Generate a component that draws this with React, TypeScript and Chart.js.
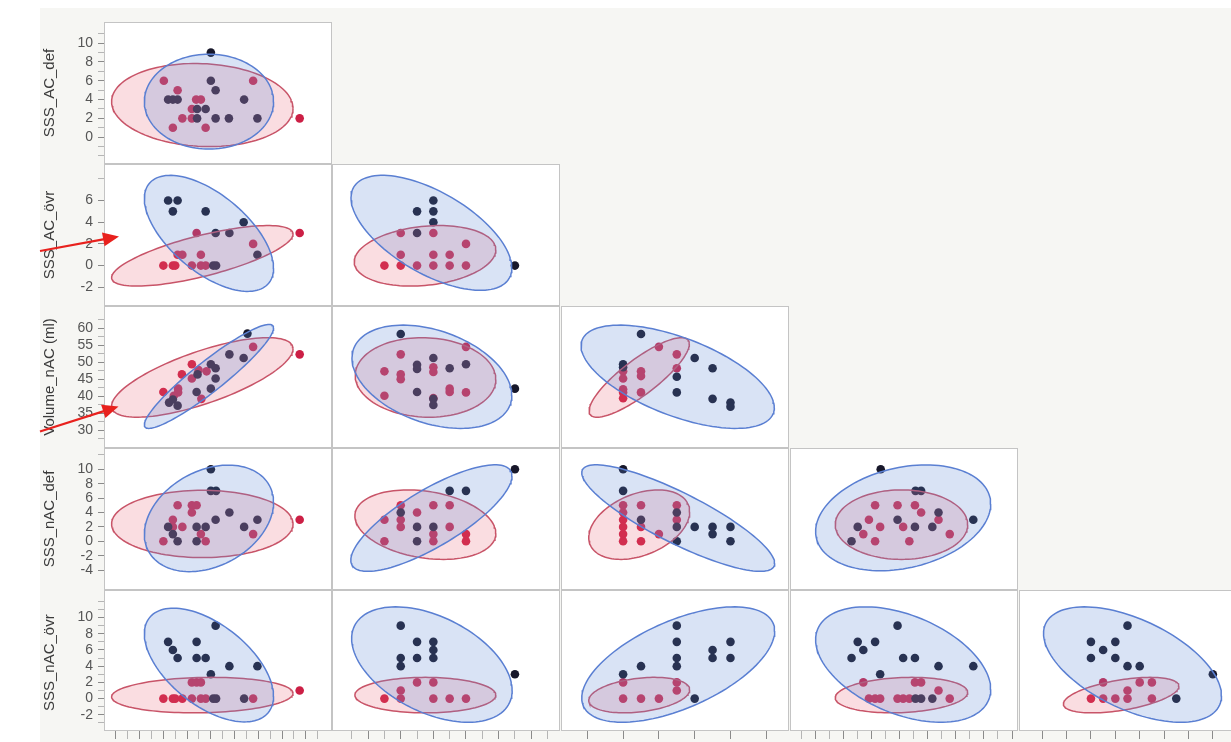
import React, { useEffect, useRef } from 'react';
import { Chart, registerables } from 'chart.js';

Chart.register(...registerables);

const FONT = "'Liberation Sans', Arial, Helvetica, sans-serif";

// variable names: index 0 is the column-1 x variable (not labelled in view)
const VARS = ['Volume_AC (ml)', 'SSS_AC_def', 'SSS_AC_övr', 'Volume_nAC (ml)', 'SSS_nAC_def', 'SSS_nAC_övr'];

// axis ranges
const COL_X_RANGES = [[17.5, 64.6], [-1.95, 11.5], [-3.23, 9.03], [26.2, 65.3], [-5.55, 12.45]];
const ROW_Y_RANGES = [[-2.4, 11.8], [-3.33, 8.97], [26.0, 65.26], [-6.16, 12.35], [-4.0, 12.87]];

// y tick marks and labelled ticks per row
const ROW1_TICKS = [-2, -1, 0, 1, 2, 3, 4, 5, 6, 7, 8, 9, 10, 11];
const ROW1_LABELS = [0, 2, 4, 6, 8, 10];
const ROW2_TICKS = [-2, 0, 2, 4, 6, 8];
const ROW2_LABELS = [-2, 0, 2, 4, 6];
const ROW3_TICKS = [27.5, 30, 32.5, 35, 37.5, 40, 42.5, 45, 47.5, 50, 52.5, 55, 57.5, 60, 62.5];
const ROW3_LABELS = [30, 35, 40, 45, 50, 55, 60];
const ROW4_TICKS = [-4, -2, 0, 2, 4, 6, 8, 10, 12];
const ROW4_LABELS = [-4, -2, 0, 2, 4, 6, 8, 10];
const ROW5_TICKS = [-3, -2, -1, 0, 1, 2, 3, 4, 5, 6, 7, 8, 9, 10, 11, 12];
const ROW5_LABELS = [-2, 0, 2, 4, 6, 8, 10];
const ROW_TICKS = [ROW1_TICKS, ROW2_TICKS, ROW3_TICKS, ROW4_TICKS, ROW5_TICKS];
const ROW_LABELS = [ROW1_LABELS, ROW2_LABELS, ROW3_LABELS, ROW4_LABELS, ROW5_LABELS];

// bottom x tick marks per column (major / minor)
const COL1_TICKS = [20, 22.5, 25, 27.5, 30, 32.5, 35, 37.5, 40, 42.5, 45, 47.5, 50, 52.5, 55, 57.5, 60, 62.5];
const COL1_MAJOR = [20, 25, 30, 35, 40, 45, 50, 55, 60];
const COL2_TICKS = [-1, 0, 1, 2, 3, 4, 5, 6, 7, 8, 9, 10, 11];
const COL2_MAJOR = [0, 2, 4, 6, 8, 10];
const COL3_TICKS = [-2, 0, 2, 4, 6, 8];
const COL3_MAJOR = [-2, 0, 2, 4, 6, 8];
const COL4_TICKS = [27.5, 30, 32.5, 35, 37.5, 40, 42.5, 45, 47.5, 50, 52.5, 55, 57.5, 60, 62.5, 65];
const COL4_MAJOR = [30, 35, 40, 45, 50, 55, 60, 65];
const COL5_TICKS = [-4, -2, 0, 2, 4, 6, 8, 10, 12];
const COL5_MAJOR = [-4, -2, 0, 2, 4, 6, 8, 10, 12];
const COL_TICKS = [COL1_TICKS, COL2_TICKS, COL3_TICKS, COL4_TICKS, COL5_TICKS];
const COL_MAJOR = [COL1_MAJOR, COL2_MAJOR, COL3_MAJOR, COL4_MAJOR, COL5_MAJOR];

// ---- panel data: [x, y] points, ellipses as [cx, halfX, cy, halfY, r] ----
const P11_BLACK = [[40.0, 9], [40.0, 6], [41.0, 5], [31.0, 4], [32.0, 4], [33.0, 4], [47.0, 4], [37.1, 3], [38.9, 3], [37.1, 2], [41.0, 2], [43.8, 2], [49.8, 2]];
const P11_RED = [[30.1, 6], [48.9, 6], [33.0, 5], [36.9, 4], [37.9, 4], [36.0, 3], [34.0, 2], [36.0, 2], [32.0, 1], [38.9, 1], [58.7, 2]];
const P11_BLUE_ELL = [39.6, 13.6, 3.78, 5.05, 0.0];
const P11_RED_ELL = [38.2, 19.1, 3.42, 4.42, -0.08];

const P21_BLACK = [[31.0, 6], [33.0, 6], [32.0, 5], [38.9, 5], [46.9, 4], [41.0, 3], [43.9, 3], [49.8, 1], [40.5, 0], [41.1, 0]];
const P21_RED = [[58.7, 3], [37.0, 3], [48.9, 2], [33.0, 1], [34.0, 1], [37.9, 1], [30.0, 0], [32.0, 0], [32.5, 0], [36.0, 0], [37.9, 0], [38.9, 0]];
const P21_BLUE_ELL = [39.6, 13.6, 2.97, 5.35, -0.6];
const P21_RED_ELL = [38.2, 19.1, 0.9, 2.79, 0.72];

const P31_BLACK = [[47.7, 58.4], [43.9, 52.3], [46.9, 51.2], [40.0, 49.4], [41.0, 48.2], [37.2, 46.4], [41.0, 45.2], [37.0, 41.2], [40.0, 42.2], [32.0, 39.0], [31.2, 38.1], [33.0, 37.2]];
const P31_RED = [[58.7, 52.3], [48.9, 54.5], [36.0, 49.4], [33.9, 46.4], [36.0, 45.2], [37.4, 47.7], [39.1, 47.3], [30.0, 41.2], [33.1, 42.2], [33.1, 41.1], [32.2, 40.1], [38.0, 39.2]];
const P31_BLUE_ELL = [39.6, 13.6, 45.8, 15.3, 0.93];
const P31_RED_ELL = [38.2, 19.1, 45.5, 11.7, 0.72];

const P41_BLACK = [[40.0, 10], [40.0, 7], [41.1, 7], [43.9, 4], [41.0, 3], [49.8, 3], [31.0, 2], [37.0, 2], [38.9, 2], [47.0, 2], [32.0, 1], [33.0, 0], [37.0, 0]];
const P41_RED = [[58.7, 3], [48.9, 1], [33.0, 5], [36.0, 5], [37.0, 5], [36.0, 4], [32.0, 3], [32.0, 2], [34.0, 2], [37.9, 1], [30.0, 0], [38.9, 0]];
const P41_BLUE_ELL = [39.6, 13.6, 3.18, 7.39, 0.3];
const P41_RED_ELL = [38.2, 19.1, 2.41, 4.67, 0.0];

const P51_BLACK = [[41.0, 9], [31.0, 7], [37.0, 7], [32.0, 6], [33.0, 5], [37.0, 5], [38.9, 5], [43.9, 4], [49.8, 4], [40.0, 3], [40.5, 0], [41.1, 0], [47.0, 0]];
const P51_RED = [[58.7, 1], [36.0, 2], [37.0, 2], [37.9, 2], [30.0, 0], [32.0, 0], [32.5, 0], [34.0, 0], [36.0, 0], [37.9, 0], [38.9, 0], [48.9, 0]];
const P51_BLUE_ELL = [39.6, 13.6, 4.14, 7.02, -0.55];
const P51_RED_ELL = [38.2, 19.1, 0.43, 2.19, 0.1];

const P22_BLACK = [[4, 6], [3, 5], [4, 5], [4, 4], [3, 3], [9, 0]];
const P22_RED = [[2, 3], [4, 3], [6, 2], [2, 1], [4, 1], [5, 1], [1, 0], [2, 0], [3, 0], [4, 0], [5, 0], [6, 0]];
const P22_BLUE_ELL = [3.88, 4.93, 3.02, 5.3, -0.61];
const P22_RED_ELL = [3.49, 4.34, 0.9, 2.79, 0.2];

const P32_BLACK = [[2, 58.3], [4, 51.2], [3, 49.2], [3, 48.0], [5, 48.2], [6, 49.4], [3, 41.2], [4, 39.2], [4, 37.4], [9, 42.2]];
const P32_RED = [[6, 54.5], [2, 52.3], [1, 47.3], [2, 46.4], [2, 45.0], [4, 48.5], [4, 47.1], [5, 42.2], [5, 41.2], [6, 41.1], [1, 40.1], [4, 39.4]];
const P32_BLUE_ELL = [3.91, 4.9, 45.7, 15.2, -0.36];
const P32_RED_ELL = [3.52, 4.31, 45.5, 11.7, -0.05];

const P33_BLACK = [[1, 58.3], [0, 49.4], [0, 48.5], [3, 45.7], [4, 51.2], [5, 48.2], [3, 41.1], [5, 39.2], [6, 38.1], [6, 36.9]];
const P33_RED = [[2, 54.5], [3, 52.3], [3, 48.2], [0, 47.3], [0, 45.2], [1, 47.3], [1, 45.9], [0, 42.0], [0, 41.1], [0, 39.4], [1, 41.1]];
const P33_BLUE_ELL = [3.05, 5.4, 45.7, 15.2, -0.6];
const P33_RED_ELL = [0.9, 2.8, 45.5, 11.7, 0.84];

const P42_BLACK = [[2, 4], [3, 2], [3, 0], [4, 2], [5, 7], [6, 7], [9, 10]];
const P42_RED = [[1, 3], [1, 0], [2, 5], [2, 3], [2, 2], [3, 4], [4, 5], [4, 1], [4, 0], [5, 5], [5, 2], [6, 1], [6, 0]];
const P42_BLUE_ELL = [3.88, 4.94, 3.22, 7.39, 0.79];
const P42_RED_ELL = [3.51, 4.32, 2.31, 4.82, -0.25];

const P43_BLACK = [[0, 10], [0, 7], [1, 3], [3, 4], [3, 2], [3, 0], [4, 2], [5, 2], [5, 1], [6, 2], [6, 0]];
const P43_RED = [[0, 5], [0, 4], [0, 3], [0, 2], [0, 1], [0, 0], [1, 5], [1, 2], [1, 0], [2, 1], [3, 5], [3, 3]];
const P43_BLUE_ELL = [3.08, 5.39, 3.22, 7.39, -0.85];
const P43_RED_ELL = [0.9, 2.82, 2.31, 4.82, 0.37];

const P44_BLACK = [[41.6, 10], [47.8, 7], [48.8, 7], [51.9, 4], [44.6, 3], [58.1, 3], [37.5, 2], [47.7, 2], [50.8, 2], [36.4, 0]];
const P44_RED = [[40.6, 5], [44.6, 5], [47.7, 5], [48.8, 4], [39.5, 3], [51.9, 3], [41.5, 2], [45.6, 2], [38.5, 1], [53.9, 1], [40.6, 0], [46.7, 0]];
const P44_BLUE_ELL = [45.6, 15.6, 3.26, 7.34, 0.26];
const P44_RED_ELL = [45.3, 11.8, 2.31, 4.82, 0.0];

const P52_BLACK = [[2, 9], [3, 7], [4, 7], [4, 6], [2, 5], [3, 5], [4, 5], [2, 4], [9, 3]];
const P52_RED = [[3, 2], [4, 2], [2, 1], [1, 0], [2, 0], [4, 0], [5, 0], [6, 0]];
const P52_BLUE_ELL = [3.91, 4.92, 4.2, 7.12, -0.45];
const P52_RED_ELL = [3.51, 4.32, 0.43, 2.19, 0.0];

const P53_BLACK = [[3, 9], [3, 7], [6, 7], [5, 6], [3, 5], [5, 5], [6, 5], [3, 4], [1, 4], [0, 3], [4, 0]];
const P53_RED = [[0, 2], [3, 2], [3, 1], [0, 0], [1, 0], [2, 0]];
const P53_BLUE_ELL = [3.08, 5.39, 4.2, 7.12, 0.58];
const P53_RED_ELL = [0.9, 2.82, 0.43, 2.19, 0.3];

const P54_BLACK = [[44.6, 9], [37.5, 7], [40.6, 7], [38.5, 6], [36.4, 5], [45.6, 5], [47.7, 5], [51.9, 4], [58.1, 4], [41.5, 3], [47.8, 0], [48.8, 0], [50.8, 0]];
const P54_RED = [[38.5, 2], [47.7, 2], [48.8, 2], [51.9, 1], [39.5, 0], [40.6, 0], [41.5, 0], [44.6, 0], [45.6, 0], [46.7, 0], [53.9, 0]];
const P54_BLUE_ELL = [45.6, 15.6, 4.2, 7.12, -0.43];
const P54_RED_ELL = [45.3, 11.8, 0.43, 2.19, 0.15];

const P55_BLACK = [[3, 9], [0, 7], [2, 7], [1, 6], [0, 5], [2, 5], [3, 4], [4, 4], [10, 3], [7, 0]];
const P55_RED = [[1, 2], [4, 2], [5, 2], [3, 1], [0, 0], [1, 0], [2, 0], [3, 0], [5, 0]];
const P55_BLUE_ELL = [3.41, 7.3, 4.2, 7.12, -0.54];
const P55_RED_ELL = [2.48, 4.74, 0.43, 2.19, 0.5];

const PANELS = [
  { r: 0, c: 0, black: P11_BLACK, red: P11_RED, blueEll: P11_BLUE_ELL, redEll: P11_RED_ELL },
  { r: 1, c: 0, black: P21_BLACK, red: P21_RED, blueEll: P21_BLUE_ELL, redEll: P21_RED_ELL },
  { r: 2, c: 0, black: P31_BLACK, red: P31_RED, blueEll: P31_BLUE_ELL, redEll: P31_RED_ELL },
  { r: 3, c: 0, black: P41_BLACK, red: P41_RED, blueEll: P41_BLUE_ELL, redEll: P41_RED_ELL },
  { r: 4, c: 0, black: P51_BLACK, red: P51_RED, blueEll: P51_BLUE_ELL, redEll: P51_RED_ELL },
  { r: 1, c: 1, black: P22_BLACK, red: P22_RED, blueEll: P22_BLUE_ELL, redEll: P22_RED_ELL },
  { r: 2, c: 1, black: P32_BLACK, red: P32_RED, blueEll: P32_BLUE_ELL, redEll: P32_RED_ELL },
  { r: 2, c: 2, black: P33_BLACK, red: P33_RED, blueEll: P33_BLUE_ELL, redEll: P33_RED_ELL },
  { r: 3, c: 1, black: P42_BLACK, red: P42_RED, blueEll: P42_BLUE_ELL, redEll: P42_RED_ELL },
  { r: 3, c: 2, black: P43_BLACK, red: P43_RED, blueEll: P43_BLUE_ELL, redEll: P43_RED_ELL },
  { r: 3, c: 3, black: P44_BLACK, red: P44_RED, blueEll: P44_BLUE_ELL, redEll: P44_RED_ELL },
  { r: 4, c: 1, black: P52_BLACK, red: P52_RED, blueEll: P52_BLUE_ELL, redEll: P52_RED_ELL },
  { r: 4, c: 2, black: P53_BLACK, red: P53_RED, blueEll: P53_BLUE_ELL, redEll: P53_RED_ELL },
  { r: 4, c: 3, black: P54_BLACK, red: P54_RED, blueEll: P54_BLUE_ELL, redEll: P54_RED_ELL },
  { r: 4, c: 4, black: P55_BLACK, red: P55_RED, blueEll: P55_BLUE_ELL, redEll: P55_RED_ELL },
];

// layout
const COL_LEFT = [104, 332, 561, 790, 1019];
const ROW_TOP = [22, 164, 306, 448, 590];
const CELL_W = 228;
const CELL_H = [142, 142, 142, 142, 141];
const AXIS_LEFT = 40;
const AXIS_W = 64;
const XAXIS_H = 11;

function ellipsePoints(e: number[]) {
  const [cx, hx, cy, hy, r] = e;
  const s = Math.sqrt(1 - r * r);
  const pts = [];
  const n = 120;
  for (let i = 0; i <= n; i++) {
    const t = (i / n) * Math.PI * 2;
    pts.push({ x: cx + hx * Math.cos(t), y: cy + hy * (r * Math.cos(t) + s * Math.sin(t)) });
  }
  return pts;
}

const toXY = (arr: number[][]) => arr.map(([x, y]) => ({ x, y }));

function makeConfig(p: any): any {
  const { r, c } = p;
  const showX = r === 4;
  const showY = c === 0;
  return {
    type: 'scatter',
    data: {
      datasets: [
        {
          type: 'line',
          data: ellipsePoints(p.blueEll),
          borderColor: '#5a7fd2',
          backgroundColor: 'rgba(95,140,215,0.24)',
          borderWidth: 1.5,
          pointRadius: 0,
          fill: 'shape',
          tension: 0,
          order: 0,
        },
        {
          type: 'line',
          data: ellipsePoints(p.redEll),
          borderColor: '#c85468',
          backgroundColor: 'rgba(232,100,120,0.22)',
          borderWidth: 1.5,
          pointRadius: 0,
          fill: 'shape',
          tension: 0,
          order: 0,
        },
        {
          data: toXY(p.black),
          backgroundColor: '#17172a',
          borderWidth: 0,
          pointRadius: 4.3,
          order: 1,
        },
        {
          data: toXY(p.red),
          backgroundColor: '#cc1f45',
          borderWidth: 0,
          pointRadius: 4.3,
          order: 1,
        },
      ],
    },
    options: {
      responsive: false,
      animation: false,
      devicePixelRatio: 1,
      layout: { padding: 0 },
      plugins: { legend: { display: false }, tooltip: { enabled: false } },
      events: [],
      scales: {
        x: {
          type: 'linear',
          min: COL_X_RANGES[c][0],
          max: COL_X_RANGES[c][1],
          display: showX,
          afterBuildTicks: (s: any) => {
            s.ticks = COL_TICKS[c].map((v) => ({ value: v }));
          },
          afterFit: (s: any) => {
            if (showX) s.height = XAXIS_H;
            s.paddingLeft = 0;
            s.paddingRight = 0;
          },
          ticks: { display: false, autoSkip: false },
          grid: {
            drawOnChartArea: false,
            drawTicks: true,
            tickLength: 8,
            tickColor: (ctx: any) => (ctx.tick && COL_MAJOR[c].includes(ctx.tick.value) ? '#8a8a8a' : '#b5b5b5'),
          },
          border: { display: false },
        },
        y: {
          type: 'linear',
          min: ROW_Y_RANGES[r][0],
          max: ROW_Y_RANGES[r][1],
          display: showY,
          afterBuildTicks: (s: any) => {
            s.ticks = ROW_TICKS[r].map((v) => ({ value: v }));
          },
          afterFit: (s: any) => {
            if (showY) s.width = AXIS_W;
            s.paddingTop = 0;
            s.paddingBottom = 0;
          },
          ticks: {
            autoSkip: false,
            padding: 5,
            color: '#555555',
            font: { family: FONT, size: 14 },
            callback: (v: number) => (ROW_LABELS[r].includes(v) ? String(v) : ''),
          },
          grid: {
            drawOnChartArea: false,
            drawTicks: true,
            tickLength: 6,
            tickColor: (ctx: any) => (ctx.tick && ROW_LABELS[r].includes(ctx.tick.value) ? '#8a8a8a' : '#b5b5b5'),
          },
          border: { display: false },
          title: {
            display: true,
            text: VARS[r + 1],
            color: '#3a3a3a',
            font: { family: FONT, size: 15 },
            padding: { top: 1, bottom: 0 },
          },
        },
      },
    },
  };
}

function Panel({ p }: { p: any }) {
  const ref = useRef<HTMLCanvasElement>(null);
  useEffect(() => {
    const chart = new Chart(ref.current as HTMLCanvasElement, makeConfig(p));
    return () => chart.destroy();
  }, []);
  const left = p.c === 0 ? AXIS_LEFT : COL_LEFT[p.c];
  const w = (p.c === 0 ? AXIS_W : 0) + CELL_W;
  const h = CELL_H[p.r] + (p.r === 4 ? XAXIS_H : 0);
  return (
    <canvas
      ref={ref}
      width={w}
      height={h}
      style={{ position: 'absolute', left, top: ROW_TOP[p.r], width: w, height: h, zIndex: 2 }}
    />
  );
}

function arrowHead(x1: number, y1: number, x2: number, y2: number, len: number, half: number) {
  const dx = x2 - x1;
  const dy = y2 - y1;
  const d = Math.hypot(dx, dy);
  const ux = dx / d;
  const uy = dy / d;
  const bx = x2 - ux * len;
  const by = y2 - uy * len;
  const px = -uy * half;
  const py = ux * half;
  return `${x2},${y2} ${bx + px},${by + py} ${bx - px},${by - py}`;
}

const ARROWS = [
  [40, 251, 119, 236.5],
  [40, 431.5, 118.5, 406.5],
];

export default function App() {
  return (
    <div style={{ position: 'absolute', left: 0, top: 0, width: 1231, height: 742, overflow: 'hidden', background: '#ffffff' }}>
      <div style={{ position: 'absolute', left: 40, top: 8, width: 1191, height: 734, background: '#f6f6f3' }} />
      {PANELS.map((p, i) => (
        <div
          key={'bg' + i}
          style={{
            position: 'absolute',
            left: COL_LEFT[p.c],
            top: ROW_TOP[p.r],
            width: CELL_W,
            height: CELL_H[p.r],
            background: '#ffffff',
            border: '1px solid #c4c4c4',
            boxSizing: 'border-box',
            zIndex: 1,
          }}
        />
      ))}
      {PANELS.map((p, i) => (
        <Panel key={'p' + i} p={p} />
      ))}
      <svg width={1231} height={742} style={{ position: 'absolute', left: 0, top: 0, zIndex: 5, pointerEvents: 'none' }}>
        {ARROWS.map(([x1, y1, x2, y2], i) => {
          const d = Math.hypot(x2 - x1, y2 - y1);
          const ex = x2 - ((x2 - x1) / d) * 12;
          const ey = y2 - ((y2 - y1) / d) * 12;
          return (
            <g key={i}>
              <line x1={x1} y1={y1} x2={ex} y2={ey} stroke="#e8211d" strokeWidth={2.2} />
              <polygon points={arrowHead(x1, y1, x2, y2, 16, 7)} fill="#e8211d" />
            </g>
          );
        })}
      </svg>
    </div>
  );
}
